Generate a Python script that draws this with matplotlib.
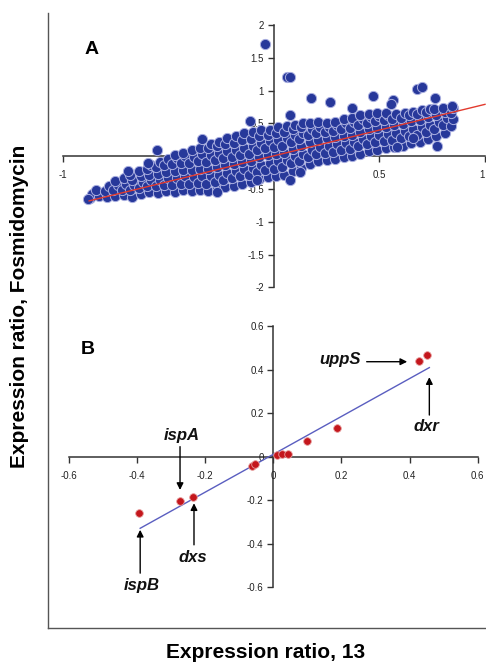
import matplotlib
matplotlib.use("Agg")
import matplotlib.pyplot as plt
from matplotlib.ticker import FixedLocator, FuncFormatter
from matplotlib.lines import Line2D

plt.rcParams['font.family'] = ['Liberation Sans', 'DejaVu Sans']
plt.rcParams['axes.unicode_minus'] = False

# ---------------- Panel A data (expression ratios, whole genome) -------------
cloud_a = [
    (-0.87,-0.64),(-0.86,-0.58),
    (-0.83,-0.61),(-0.84,-0.52),
    (-0.79,-0.62),(-0.80,-0.53),(-0.78,-0.45),
    (-0.75,-0.61),(-0.76,-0.52),(-0.74,-0.44),(-0.75,-0.38),
    (-0.71,-0.60),(-0.72,-0.51),(-0.70,-0.43),(-0.71,-0.34),
    (-0.67,-0.62),(-0.68,-0.52),(-0.66,-0.44),(-0.67,-0.36),(-0.68,-0.28),
    (-0.63,-0.57),(-0.64,-0.48),(-0.62,-0.40),(-0.63,-0.31),(-0.64,-0.22),
    (-0.59,-0.55),(-0.60,-0.46),(-0.58,-0.37),(-0.59,-0.28),(-0.60,-0.20),(-0.58,-0.14),
    (-0.55,-0.56),(-0.56,-0.46),(-0.54,-0.36),(-0.55,-0.27),(-0.56,-0.17),(-0.54,-0.09),
    (-0.51,-0.53),(-0.52,-0.44),(-0.50,-0.34),(-0.51,-0.24),(-0.52,-0.14),(-0.50,-0.05),
    (-0.47,-0.54),(-0.48,-0.44),(-0.46,-0.33),(-0.47,-0.23),(-0.48,-0.12),(-0.46,-0.03),(-0.47,0.02),
    (-0.43,-0.52),(-0.44,-0.42),(-0.42,-0.31),(-0.43,-0.21),(-0.44,-0.10),(-0.42,0.00),(-0.43,0.05),
    (-0.39,-0.53),(-0.40,-0.43),(-0.38,-0.32),(-0.39,-0.21),(-0.40,-0.11),(-0.38,-0.01),(-0.39,0.09),
    (-0.35,-0.52),(-0.36,-0.41),(-0.34,-0.30),(-0.35,-0.19),(-0.36,-0.08),(-0.34,0.03),(-0.35,0.13),
    (-0.31,-0.53),(-0.32,-0.42),(-0.30,-0.31),(-0.31,-0.20),(-0.32,-0.09),(-0.30,0.02),(-0.31,0.12),(-0.30,0.19),
    (-0.27,-0.50),(-0.28,-0.39),(-0.26,-0.28),(-0.27,-0.17),(-0.28,-0.06),(-0.26,0.05),(-0.27,0.15),(-0.26,0.22),
    (-0.23,-0.47),(-0.24,-0.36),(-0.22,-0.25),(-0.23,-0.14),(-0.24,-0.03),(-0.22,0.08),(-0.23,0.18),(-0.22,0.27),
    (-0.19,-0.45),(-0.20,-0.34),(-0.18,-0.23),(-0.19,-0.12),(-0.20,-0.01),(-0.18,0.10),(-0.19,0.20),(-0.18,0.30),
    (-0.15,-0.42),(-0.16,-0.31),(-0.14,-0.20),(-0.15,-0.09),(-0.16,0.02),(-0.14,0.13),(-0.15,0.24),(-0.14,0.35),
    (-0.11,-0.40),(-0.12,-0.29),(-0.10,-0.18),(-0.11,-0.07),(-0.12,0.04),(-0.10,0.15),(-0.11,0.26),(-0.10,0.37),
    (-0.07,-0.35),(-0.08,-0.24),(-0.06,-0.13),(-0.07,-0.02),(-0.08,0.09),(-0.06,0.20),(-0.07,0.31),(-0.06,0.40),
    (-0.03,-0.32),(-0.04,-0.21),(-0.02,-0.10),(-0.03,0.01),(-0.04,0.12),(-0.02,0.23),(-0.03,0.33),(-0.02,0.40),
    (0.01,-0.30),(0.00,-0.19),(0.02,-0.08),(0.01,0.03),(0.00,0.14),(0.02,0.25),(0.01,0.35),(0.02,0.44),
    (0.05,-0.28),(0.04,-0.17),(0.06,-0.06),(0.05,0.05),(0.04,0.16),(0.06,0.27),(0.05,0.37),(0.06,0.46),
    (0.09,-0.22),(0.08,-0.11),(0.10,0.00),(0.09,0.11),(0.08,0.22),(0.10,0.32),(0.09,0.41),(0.10,0.48),
    (0.13,-0.18),(0.12,-0.07),(0.14,0.04),(0.13,0.15),(0.12,0.26),(0.14,0.36),(0.13,0.45),(0.14,0.50),
    (0.17,-0.12),(0.16,-0.01),(0.18,0.10),(0.17,0.21),(0.16,0.32),(0.18,0.42),(0.17,0.51),
    (0.21,-0.08),(0.20,0.03),(0.22,0.14),(0.21,0.25),(0.20,0.35),(0.22,0.44),(0.21,0.52),
    (0.25,-0.06),(0.24,0.05),(0.26,0.16),(0.25,0.27),(0.24,0.37),(0.26,0.45),(0.25,0.50),
    (0.29,-0.04),(0.28,0.07),(0.30,0.18),(0.29,0.29),(0.28,0.39),(0.30,0.47),(0.29,0.52),
    (0.33,-0.02),(0.32,0.09),(0.34,0.20),(0.33,0.31),(0.32,0.41),(0.34,0.50),(0.33,0.56),
    (0.37,0.00),(0.36,0.11),(0.38,0.22),(0.37,0.33),(0.36,0.43),(0.38,0.52),(0.37,0.58),
    (0.41,0.04),(0.40,0.15),(0.42,0.26),(0.41,0.37),(0.40,0.47),(0.42,0.56),(0.41,0.62),
    (0.45,0.08),(0.44,0.19),(0.46,0.30),(0.45,0.41),(0.44,0.51),(0.46,0.59),(0.45,0.64),
    (0.49,0.10),(0.48,0.21),(0.50,0.32),(0.49,0.43),(0.48,0.53),(0.50,0.61),(0.49,0.66),
    (0.53,0.12),(0.52,0.23),(0.54,0.34),(0.53,0.45),(0.52,0.55),(0.54,0.63),(0.53,0.66),
    (0.57,0.14),(0.56,0.25),(0.58,0.36),(0.57,0.47),(0.56,0.56),(0.58,0.64),
    (0.61,0.16),(0.60,0.27),(0.62,0.38),(0.61,0.49),(0.60,0.58),(0.62,0.66),
    (0.65,0.20),(0.64,0.31),(0.66,0.42),(0.65,0.53),(0.64,0.62),(0.66,0.68),
    (0.69,0.22),(0.68,0.33),(0.70,0.44),(0.69,0.55),(0.68,0.64),(0.70,0.70),
    (0.73,0.26),(0.72,0.37),(0.74,0.48),(0.73,0.59),(0.72,0.68),(0.74,0.72),
    (0.77,0.30),(0.76,0.41),(0.78,0.52),(0.77,0.62),(0.76,0.72),
    (0.81,0.36),(0.80,0.47),(0.82,0.58),(0.81,0.68),(0.80,0.74),
    (0.84,0.46),(0.85,0.56),(0.84,0.66),(0.85,0.74),
]
outliers_a = [
    (-0.042,1.71),(0.062,1.20),(0.078,1.20),(0.176,0.88),(0.266,0.83),
    (0.471,0.92),(0.676,1.02),(0.700,1.05),(0.763,0.88),(0.566,0.85),
    (0.555,0.80),(0.369,0.73),(0.077,0.63),(-0.113,0.53),(-0.555,0.095),
    (-0.594,-0.11),(-0.689,-0.22),(-0.341,0.26),(-0.878,-0.65),(0.771,0.16),
    (0.842,0.77),(0.661,0.27),(0.582,0.145),(0.077,-0.36),(0.124,-0.24),
    (-0.270,-0.54),(-0.081,-0.36),
]
fit_a_x = [-0.875, 1.0]
fit_a_y = [-0.682, 0.790]

xticks_a = [-1, -0.5, 0, 0.5, 1]
yticks_a = [-2, -1.5, -1, -0.5, 0, 0.5, 1, 1.5, 2]

# ---------------- Panel B data (isoprenoid pathway genes) --------------------
genes_b_x = [-0.394, -0.275, -0.237, -0.062, -0.054, 0.010, 0.026, 0.043, 0.098, 0.186, 0.429, 0.450]
genes_b_y = [-0.260, -0.202, -0.185, -0.043, -0.036, 0.006, 0.012, 0.012, 0.074, 0.130, 0.441, 0.467]
fit_b_x = [-0.391, 0.458]
fit_b_y = [-0.329, 0.409]

xticks_b = [-0.6, -0.4, -0.2, 0, 0.2, 0.4, 0.6]
yticks_b = [-0.6, -0.4, -0.2, 0, 0.2, 0.4, 0.6]

# (label, text position, arrow tail, arrow head) in data coordinates
gene_labels = [
    ("uppS", (0.196, 0.448), (0.274, 0.436), (0.393, 0.436)),
    ("dxr",  (0.450, 0.140), (0.458, 0.191), (0.458, 0.365)),
    ("ispA", (-0.269, 0.097), (-0.274, 0.046), (-0.274, -0.153)),
    ("dxs",  (-0.237, -0.462), (-0.233, -0.405), (-0.233, -0.214)),
    ("ispB", (-0.386, -0.594), (-0.391, -0.535), (-0.391, -0.336)),
]

W, H = 486, 664
fig = plt.figure(figsize=(W / 100, H / 100), dpi=100)


def px_axes(x0, x1, ytop, ybot):
    return fig.add_axes([x0 / W, 1 - ybot / H, (x1 - x0) / W, (ybot - ytop) / H])


def fmt(v, pos):
    return "%g" % v


def style_axes(ax, xt, yt):
    ax.spines['left'].set_position(('data', 0))
    ax.spines['bottom'].set_position(('data', 0))
    ax.spines['right'].set_visible(False)
    ax.spines['top'].set_visible(False)
    for s in ('left', 'bottom'):
        ax.spines[s].set_color('#333333')
        ax.spines[s].set_linewidth(1.1)
        ax.spines[s].set_zorder(1)
    ax.xaxis.set_major_locator(FixedLocator(xt))
    ax.yaxis.set_major_locator(FixedLocator(yt))
    ax.xaxis.set_major_formatter(FuncFormatter(fmt))
    ax.yaxis.set_major_formatter(FuncFormatter(fmt))
    ax.tick_params(axis='x', direction='out', length=4, width=1, color='#333333',
                   labelsize=7, pad=6, labelcolor='#222222')
    ax.tick_params(axis='y', direction='out', length=4, width=1, color='#333333',
                   labelsize=7, pad=3, labelcolor='#222222')
    ax.patch.set_alpha(0)
    for lab in ax.get_xticklabels() + ax.get_yticklabels():
        lab.set_zorder(5)


# ---------------- Panel A ----------------
axA = px_axes(62.7, 485.0, 25.0, 287.3)
axA.set_xlim(-1, 1)
axA.set_ylim(-2, 2)
style_axes(axA, xticks_a, yticks_a)
ax_pts = [p[0] for p in cloud_a] + [p[0] for p in outliers_a]
ay_pts = [p[1] for p in cloud_a] + [p[1] for p in outliers_a]
axA.scatter(ax_pts, ay_pts, s=54, c='#27389a', edgecolors='#a9aee0',
            linewidths=0.7, zorder=3, clip_on=False)
axA.plot(fit_a_x, fit_a_y, color='#e23a2e', lw=1.0, zorder=4, clip_on=False)
# rightmost tick label sits at the figure edge; nudge it inside
for lab in axA.get_xticklabels():
    if lab.get_text() == "1":
        lab.set_horizontalalignment('right')

# ---------------- Panel B ----------------
axB = px_axes(69.0, 477.7, 326.0, 587.3)
axB.set_xlim(-0.6, 0.6)
axB.set_ylim(-0.6, 0.6)
style_axes(axB, xticks_b, yticks_b)
axB.plot(fit_b_x, fit_b_y, color='#5a5ec0', lw=1.0, zorder=3)
axB.scatter(genes_b_x, genes_b_y, s=30, c='#c4161c', edgecolors='#e59a9a',
            linewidths=0.6, zorder=4)
for name, tpos, tail, head in gene_labels:
    axB.annotate("", xy=head, xytext=tail,
                 arrowprops=dict(arrowstyle='-|>', color='black', lw=1.0,
                                 mutation_scale=10, shrinkA=0, shrinkB=0))
    axB.text(tpos[0], tpos[1], name, ha='center', va='center', fontsize=12,
             fontweight='bold', fontstyle='italic', color='#111111')

# ---------------- panel letters, frame, axis titles ----------------
fig.text(91.7 / W, 1 - 50 / H, "A", ha='center', va='center', fontsize=14,
         fontweight='bold')
fig.text(87.3 / W, 1 - 349.3 / H, "B", ha='center', va='center', fontsize=14,
         fontweight='bold')

fig.add_artist(Line2D([48 / W, 48 / W], [1 - 13 / H, 1 - 628 / H],
                      color='#555555', lw=1.0, transform=fig.transFigure))
fig.add_artist(Line2D([48 / W, 1.0], [1 - 628 / H, 1 - 628 / H],
                      color='#555555', lw=1.0, transform=fig.transFigure))

fig.text(20 / W, 1 - 306 / H, "Expression ratio, Fosmidomycin", rotation=90,
         ha='center', va='center', fontsize=15, fontweight='bold')
fig.text(266 / W, 1 - 653 / H, "Expression ratio, 13", ha='center', va='center',
         fontsize=15, fontweight='bold')

fig.savefig("out.png", dpi=100)
